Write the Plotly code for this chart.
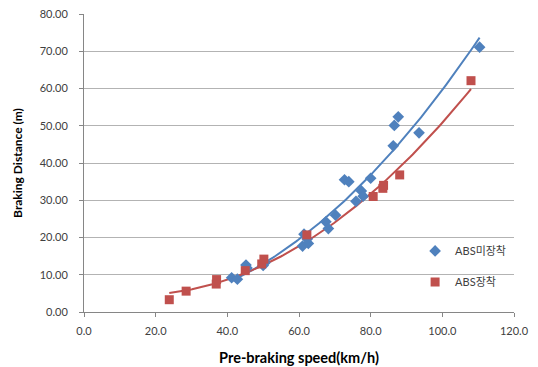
import numpy as np
import plotly.graph_objects as go

# ABS미장착 (without ABS) - blue diamonds
speed_no_abs = [41.2, 42.8, 45.2, 45.5, 50.0, 50.5, 61.0, 62.6, 61.4, 62.3, 67.5, 68.2,
                70.2, 72.7, 73.9, 75.9, 77.4, 77.9, 80.0, 86.3, 86.6, 87.7, 93.5, 110.4]
dist_no_abs = [9.2, 8.8, 12.6, 11.8, 12.5, 13.2, 17.7, 18.4, 20.9, 19.6, 24.2, 22.4,
               26.0, 35.5, 35.0, 29.7, 32.5, 31.1, 35.9, 44.6, 50.1, 52.4, 48.1, 71.1]

# ABS장착 (with ABS) - red squares
speed_abs = [23.8, 28.5, 36.9, 37.0, 45.0, 49.6, 50.2, 62.2, 80.7, 83.4, 83.6, 88.1, 108.0]
dist_abs = [3.3, 5.6, 7.5, 8.7, 11.1, 12.9, 14.2, 20.7, 31.0, 33.2, 34.0, 36.8, 62.1]

x_ticks = [0, 20, 40, 60, 80, 100, 120]
y_ticks = [0, 10, 20, 30, 40, 50, 60, 70, 80]

BLUE = "#4F81BD"
RED = "#C0504D"
FONT = "Lato, 'Noto Sans CJK KR', sans-serif"


def trend(xs, ys):
    c = np.polyfit(xs, ys, 2)
    xx = np.linspace(min(xs), max(xs), 120)
    return xx, np.polyval(c, xx)


fig = go.Figure()

tx, ty = trend(speed_no_abs, dist_no_abs)
fig.add_trace(go.Scatter(x=tx, y=ty, mode="lines", line=dict(color=BLUE, width=2),
                         showlegend=False, hoverinfo="skip"))
tx, ty = trend(speed_abs, dist_abs)
fig.add_trace(go.Scatter(x=tx, y=ty, mode="lines", line=dict(color=RED, width=2),
                         showlegend=False, hoverinfo="skip"))

fig.add_trace(go.Scatter(x=speed_no_abs, y=dist_no_abs, mode="markers", name="ABS미장착",
                         legendgroup="a",
                         marker=dict(symbol="diamond", size=9, color=BLUE)))
fig.add_trace(go.Scatter(x=speed_abs, y=dist_abs, mode="markers", name="ABS장착",
                         legendgroup="b",
                         marker=dict(symbol="square", size=9, color=RED)))

axis_common = dict(showline=True, linecolor="#868686", linewidth=1,
                   ticks="outside", ticklen=4, tickcolor="#868686",
                   tickfont=dict(family=FONT, size=11, color="#404040"),
                   ticklabeloverflow="allow",
                   zeroline=False, automargin=False)

fig.update_xaxes(range=[0, 120], tickvals=x_ticks,
                 ticktext=[f"{v:.1f}" for v in x_ticks], showgrid=False,
                 ticklabelstandoff=5,
                 title=dict(text="<b>Pre-braking speed(km/h)</b>",
                            font=dict(family=FONT, size=14.5, color="#000000"), standoff=16),
                 **axis_common)
fig.update_yaxes(range=[0, 80], tickvals=y_ticks,
                 ticktext=[f"{v:.2f}" for v in y_ticks], showgrid=True,
                 gridcolor="#b3b3b3", gridwidth=1,
                 ticklabelstandoff=9,
                 title=dict(text="<b>Braking Distance (m)</b>",
                            font=dict(family=FONT, size=12, color="#000000"), standoff=14),
                 **axis_common)

fig.update_layout(
    width=538, height=367,
    margin=dict(l=76, r=32, t=6, b=63, autoexpand=False),
    paper_bgcolor="white", plot_bgcolor="white",
    font=dict(family=FONT),
    legend=dict(x=0.770, y=0.153, xanchor="left", yanchor="middle",
                bgcolor="rgba(0,0,0,0)", traceorder="grouped", tracegroupgap=12,
                font=dict(family=FONT, size=11, color="#404040"),
                itemwidth=30),
)

fig.write_html("out.html")
